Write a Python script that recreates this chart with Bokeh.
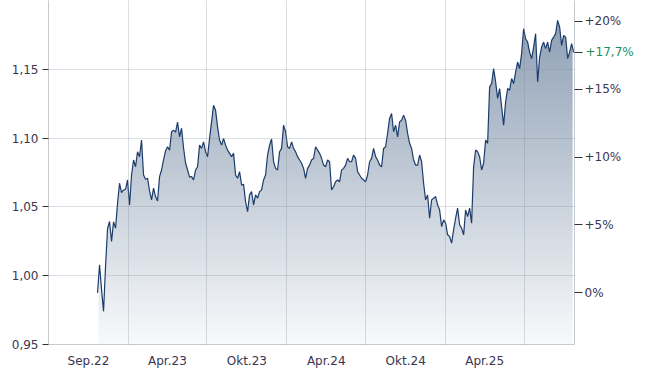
import numpy as np
import pandas as pd
from bokeh.plotting import figure
from bokeh.models import Range1d, LinearAxis, FixedTicker, CustomJSTickFormatter
from bokeh.embed import file_html
from bokeh.resources import INLINE

# ---- data (EUR/USD-like rate) ----
START_DATE = "2022-10-22"
END_DATE = "2025-10-23"
VALUES = [
    0.9875, 1.0080, 0.9899, 0.9741, 1.0067, 1.0341, 1.0394, 1.0249, 1.0391, 1.0346,
    1.0527, 1.0672, 1.0604, 1.0623, 1.0628, 1.0696, 1.0515, 1.0732, 1.0841, 1.0792,
    1.0901, 1.0865, 1.0986, 1.0732, 1.0701, 1.0708, 1.0616, 1.0551, 1.0636, 1.0575,
    1.0543, 1.0720, 1.0768, 1.0841, 1.0908, 1.0937, 1.0913, 1.1046, 1.1058, 1.1043,
    1.1116, 1.1009, 1.1072, 1.0928, 1.0819, 1.0768, 1.0717, 1.0720, 1.0696, 1.0768,
    1.0792, 1.0949, 1.0925, 1.0973, 1.0901, 1.0865, 1.0998, 1.1118, 1.1239, 1.1203,
    1.1082, 1.0986, 1.0949, 1.0998, 1.0949, 1.0913, 1.0889, 1.0865, 1.0889, 1.0732,
    1.0708, 1.0756, 1.0659, 1.0665, 1.0538, 1.0466, 1.0587, 1.0611, 1.0515, 1.0587,
    1.0563, 1.0611, 1.0623, 1.0696, 1.0732, 1.0877, 1.0949, 1.0993, 1.0828, 1.0780,
    1.0768, 1.0901, 1.0925, 1.1094, 1.1046, 1.0937, 1.0925, 1.0973, 1.0925, 1.0901,
    1.0865, 1.0841, 1.0817, 1.0780, 1.0708, 1.0780, 1.0804, 1.0841, 1.0853, 1.0937,
    1.0913, 1.0889, 1.0853, 1.0804, 1.0792, 1.0841, 1.0828, 1.0623, 1.0647, 1.0683,
    1.0696, 1.0683, 1.0768, 1.0780, 1.0804, 1.0853, 1.0828, 1.0828, 1.0877, 1.0853,
    1.0756, 1.0732, 1.0708, 1.0696, 1.0683, 1.0732, 1.0828, 1.0853, 1.0925, 1.0865,
    1.0841, 1.0804, 1.0792, 1.0925, 1.0937, 1.1034, 1.1143, 1.1179, 1.1046, 1.1094,
    1.1009, 1.1118, 1.1130, 1.1167, 1.1130, 1.1034, 1.0962, 1.0925, 1.0841, 1.0804,
    1.0804, 1.0877, 1.0828, 1.0672, 1.0551, 1.0587, 1.0418, 1.0551, 1.0563, 1.0575,
    1.0515, 1.0478, 1.0357, 1.0406, 1.0382, 1.0297, 1.0285, 1.0237, 1.0333, 1.0418,
    1.0491, 1.0370, 1.0346, 1.0297, 1.0478, 1.0430, 1.0491, 1.0382, 1.0792, 1.0913,
    1.0901, 1.0865, 1.0768, 1.0817, 1.0986, 1.0962, 1.1372, 1.1396, 1.1505, 1.1408,
    1.1288, 1.1360, 1.1227, 1.1094, 1.1263, 1.1360, 1.1348, 1.1433, 1.1396, 1.1480,
    1.1553, 1.1505, 1.1614, 1.1795, 1.1722, 1.1698, 1.1625, 1.1578, 1.1662, 1.1759,
    1.1408, 1.1589, 1.1662, 1.1698, 1.1650, 1.1698, 1.1625, 1.1710, 1.1734, 1.1759,
    1.1855, 1.1807, 1.1674, 1.1746, 1.1734, 1.1578, 1.1625, 1.1686, 1.1623,
]
X_TICK_DATES = ["2022-10-01", "2023-04-01", "2023-10-01", "2024-04-01", "2024-10-01", "2025-04-01"]
X_TICK_LABELS = ["Sep.22", "Apr.23", "Okt.23", "Apr.24", "Okt.24", "Apr.25"]
X_GRID_DATES = ["2023-01-01", "2023-07-01", "2024-01-01", "2024-07-01", "2025-01-01", "2025-07-01"]
Y_TICKS = [0.95, 1.00, 1.05, 1.10, 1.15]
PCT_TICKS = [0, 5, 10, 15, 20]
X_START = "2022-07-01"
X_END = "2025-10-25"
Y_START, Y_END = 0.95, 1.20


def ms(d):
    return pd.Timestamp(d).value / 1e6


dates = pd.date_range(START_DATE, END_DATE, periods=len(VALUES))
xs = np.asarray(dates.asi8, dtype=float) / 1e6
vals = np.asarray(VALUES, dtype=float)
base = vals[0]
last_pct = round((vals[-1] / base - 1) * 100, 1)

FONT = "DejaVu Sans"
TXT = "#3a3550"
AXLINE = "#c5c9d0"
LINE = "#1c3c6a"
FILL_RGB = (22, 58, 102)

x0, x1 = ms(X_START), ms(X_END)
px = (x1 - x0) / 526.0  # one screen pixel in x units

p = figure(width=650, height=370, output_backend="svg", toolbar_location=None,
           x_range=Range1d(x0, x1), y_range=Range1d(Y_START, Y_END),
           min_border_left=48, min_border_right=76, min_border_top=0, min_border_bottom=25)
p.outline_line_color = None
p.background_fill_color = "white"
p.border_fill_color = "white"

# vertical gradient under the curve: gradient image, masked above the curve
ymax = vals.max()
nrow = 256
img = np.zeros((nrow, 1), dtype=np.uint32)
view = img.view(dtype=np.uint8).reshape((nrow, 1, 4))
for r in range(nrow):
    t = r / (nrow - 1)
    a = 0.03 + 0.45 * t
    view[r, 0, 0] = int(round(255 - a * (255 - FILL_RGB[0])))
    view[r, 0, 1] = int(round(255 - a * (255 - FILL_RGB[1])))
    view[r, 0, 2] = int(round(255 - a * (255 - FILL_RGB[2])))
    view[r, 0, 3] = 255
p.image_rgba(image=[img], x=xs[0] + px, y=Y_START, dw=xs[-1] - xs[0] - 2 * px, dh=ymax - Y_START)
p.varea(x=xs, y1=vals, y2=np.full_like(vals, Y_END), fill_color="white")

p.line(xs, vals, line_color=LINE, line_width=1.2)

# grids (drawn above the area, semi-transparent so they darken under the fill)
p.xgrid.ticker = FixedTicker(ticks=[ms(d) for d in X_GRID_DATES])
p.ygrid.ticker = FixedTicker(ticks=Y_TICKS)
for g in p.grid:
    g.level = "annotation"
    g.grid_line_color = "#7d8796"
    g.grid_line_alpha = 0.28
    g.grid_line_width = 1

# x axis
xa = p.xaxis[0]
xa.ticker = FixedTicker(ticks=[ms(d) for d in X_TICK_DATES])
xa.formatter = CustomJSTickFormatter(
    args=dict(tpos=[ms(d) for d in X_TICK_DATES], tlab=X_TICK_LABELS),
    code="const i = tpos.findIndex(t => Math.abs(t - tick) < 1e6); return i >= 0 ? tlab[i] : '';")
xa.major_tick_line_color = None
xa.minor_tick_line_color = None
xa.axis_line_color = AXLINE
xa.major_label_standoff = 3
xa.major_label_text_font = FONT
xa.major_label_text_font_size = "12px"
xa.major_label_text_color = TXT

# left axis
ya = p.yaxis[0]
ya.ticker = FixedTicker(ticks=Y_TICKS)
ya.formatter = CustomJSTickFormatter(code="return tick.toFixed(2).replace('.', ',');")
ya.major_tick_line_color = "#333333"
ya.major_tick_out = 6
ya.major_tick_in = 0
ya.minor_tick_line_color = None
ya.axis_line_color = AXLINE
ya.major_label_standoff = 4
ya.major_label_text_font = FONT
ya.major_label_text_font_size = "12px"
ya.major_label_text_color = TXT

# right percent axis
p.extra_y_ranges = {"pct": Range1d((Y_START / base - 1) * 100, (Y_END / base - 1) * 100)}

ra = LinearAxis(y_range_name="pct")
ra.ticker = FixedTicker(ticks=PCT_TICKS + [last_pct])
ra.formatter = CustomJSTickFormatter(
    args=dict(lastp=last_pct),
    code="if (Math.abs(tick - lastp) < 0.01) return ''; if (tick == 0) return '0%'; return '+' + tick + '%';")
ra.major_tick_line_color = "#333333"
ra.major_tick_out = 8
ra.major_tick_in = 0
ra.minor_tick_line_color = None
ra.axis_line_color = AXLINE
ra.major_label_standoff = 2
ra.major_label_text_font = FONT
ra.major_label_text_font_size = "12px"
ra.major_label_text_color = TXT
p.add_layout(ra, "right")

# latest change in green: an outer axis whose label is pulled back next to its tick
ga = LinearAxis(y_range_name="pct")
ga.ticker = FixedTicker(ticks=[last_pct])
ga.formatter = CustomJSTickFormatter(
    code="return '+' + tick.toFixed(1).replace('.', ',') + '%';")
ga.axis_line_color = None
ga.major_tick_line_color = None
ga.minor_tick_line_color = None
ga.major_tick_out = 0
ga.major_tick_in = 0
ga.major_label_standoff = -39
ga.major_label_text_font = FONT
ga.major_label_text_font_size = "12px"
ga.major_label_text_color = "#1a9060"
p.add_layout(ga, "right")

open("out.html", "w").write(file_html(p, INLINE))
